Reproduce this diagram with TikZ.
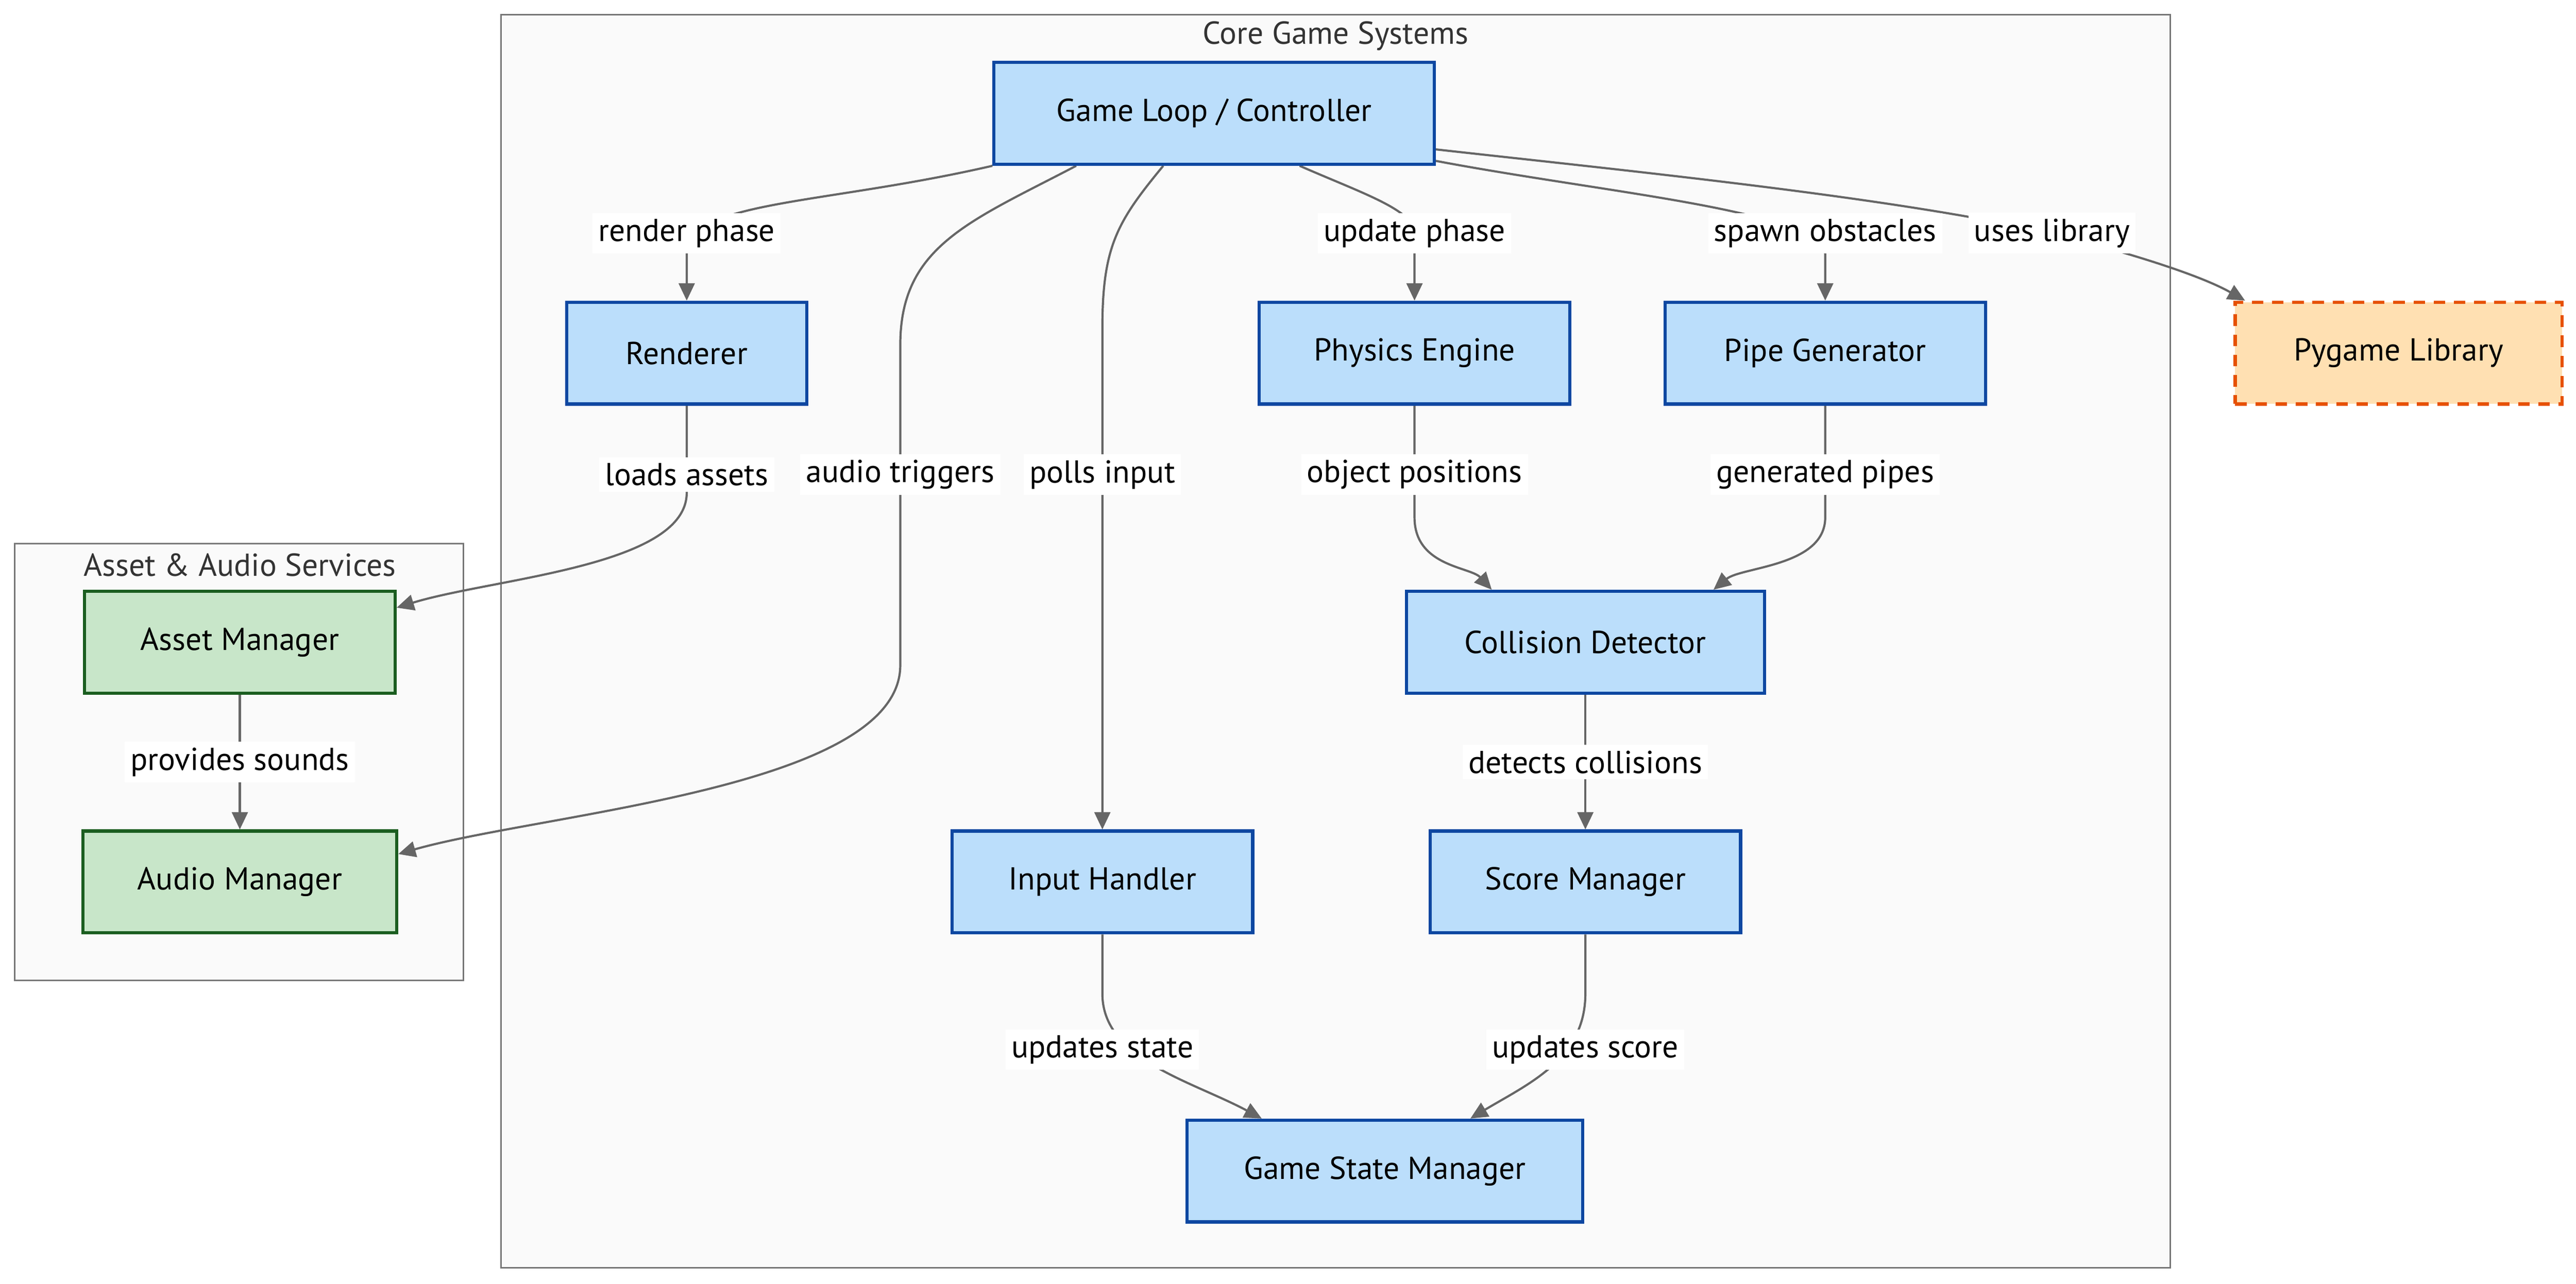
\documentclass[tikz,border=0pt]{standalone}
\usepackage{fontspec}
\setmainfont{PT Sans}
\usetikzlibrary{arrows.meta,calc}
\definecolor{coreblue}{HTML}{BBDEFB}
\definecolor{coreline}{HTML}{0D47A1}
\definecolor{assetgreen}{HTML}{C8E6C9}
\definecolor{assetline}{HTML}{1B5E20}
\definecolor{libfill}{HTML}{FFE0B2}
\definecolor{libline}{HTML}{E65100}
\definecolor{clusterfill}{HTML}{FAFAFA}
\definecolor{clusterline}{HTML}{777777}
\definecolor{linkgray}{HTML}{666666}
\definecolor{titlegray}{HTML}{333333}
\pgfdeclarelayer{bg}
\pgfdeclarelayer{links}
\pgfsetlayers{bg,links,main}

\begin{document}
\begin{tikzpicture}[x=0.02cm, y=-0.02cm,
    box/.style={draw, line width=1.1pt, minimum height=1.24cm, inner sep=0pt, text=black, font=\fontsize{11}{13}\selectfont},
    core/.style={box, draw=coreline, fill=coreblue},
    asset/.style={box, draw=assetline, fill=assetgreen},
    lib/.style={box, draw=libline, fill=libfill, dash pattern=on 4pt off 3pt},
    link/.style={draw=linkgray, line width=0.75pt, -{Triangle[length=6pt,width=5.5pt]}},
    lbl/.style={fill=white, inner sep=2pt, text=black, font=\fontsize{11}{13}\selectfont},
    cluster/.style={draw=clusterline, fill=clusterfill, line width=0.6pt},
    ctitle/.style={text=titlegray, inner sep=0pt, font=\fontsize{11}{13}\selectfont}]
    \useasboundingbox (0,0) rectangle (1568,781.6);

    \pgfmathsetmacro{\assetCol}{146}
    \pgfmathsetmacro{\renderCol}{418}
    \pgfmathsetmacro{\audioCol}{548}
    \pgfmathsetmacro{\inputCol}{671}
    \pgfmathsetmacro{\physCol}{861}
    \pgfmathsetmacro{\collCol}{965}
    \pgfmathsetmacro{\pipeCol}{1111}

    % the two subgraph frames
    \begin{pgfonlayer}{bg}
        \draw[cluster] (305,9) rectangle (1321,772);
        \draw[cluster] (9,331) rectangle (282,597);
    \end{pgfonlayer}
    \node[ctitle] (tcore) at (813,22) {Core Game Systems};
    \node[ctitle] (tasset) at (\assetCol,344) {Asset \& Audio Services};

    % core game systems
    \node[core, minimum width=5.36cm] (gl) at (739,69) {Game Loop / Controller};
    \node[core, minimum width=2.92cm] (rend) at (\renderCol,215) {Renderer};
    \node[core, minimum width=3.78cm] (phys) at (\physCol,215) {Physics Engine};
    \node[core, minimum width=3.90cm] (pipe) at (\pipeCol,215) {Pipe Generator};
    \node[core, minimum width=4.36cm] (coll) at (\collCol,391) {Collision Detector};
    \node[core, minimum width=3.66cm] (input) at (\inputCol,537) {Input Handler};
    \node[core, minimum width=3.78cm] (score) at (\collCol,537) {Score Manager};
    \node[core, minimum width=4.82cm] (gsm) at (843,713) {Game State Manager};

    % asset and audio services
    \node[asset, minimum width=3.78cm] (asset) at (\assetCol,391) {Asset Manager};
    \node[asset, minimum width=3.82cm] (audio) at (\assetCol,537) {Audio Manager};

    % outside library
    \node[lib, minimum width=3.98cm] (pyg) at (1460,215) {Pygame Library};

    % edge labels
    \node[lbl] (lrender) at (\renderCol,142) {render phase};
    \node[lbl] (lupdate) at (\physCol,142) {update phase};
    \node[lbl] (lspawn) at (\pipeCol,142) {spawn obstacles};
    \node[lbl] (luses) at (1249,142) {uses library};
    \node[lbl] (lloads) at (\renderCol,289) {loads assets};
    \node[lbl] (laudio) at (\audioCol,289) {audio triggers};
    \node[lbl] (lpolls) at (\inputCol,289) {polls input};
    \node[lbl] (lobject) at (\physCol,289) {object positions};
    \node[lbl] (lpipes) at (\pipeCol,289) {generated pipes};
    \node[lbl] (lsounds) at (\assetCol,464) {provides sounds};
    \node[lbl] (ldetect) at (\collCol,464) {detects collisions};
    \node[lbl] (lstate) at (\inputCol,639) {updates state};
    \node[lbl] (lscore) at (\collCol,639) {updates score};

    % connectors from the game loop
    \begin{pgfonlayer}{links}
        \draw[link] (gl.south west) .. controls (500,125) and (\renderCol,122) .. (lrender.south) -- (rend.north);
        \draw[link] ($(gl.south west)+(51,0)$) .. controls (590,135) and (548,150) .. (548,210) -- (laudio.center) -- (548,405) .. controls (548,480) and (330,495) .. ($(audio.east)+(0,-17)$);
        \draw[link] ($(gl.south west)+(104,0)$) .. controls (680,135) and (671,150) .. (671,200) -- (lpolls.center) -- (input.north);
        \draw[link] ($(gl.south west)+(187,0)$) .. controls (830,118) and (861,128) .. (lupdate.center) -- (phys.north);
        \draw[link] ($(gl.south east)+(0,-3)$) .. controls (980,118) and (1105,128) .. (lspawn.south) -- (pipe.north);
        \draw[link] ($(gl.south east)+(0,-10)$) .. controls (1000,105) and (1150,120) .. (luses.center) .. controls (1300,155) and (1340,168) .. ($(pyg.north west)+(7,0)$);

        % connectors below
        \draw[link] (rend.south) -- (lloads.center) -- (\renderCol,300) .. controls (\renderCol,345) and (300,352) .. ($(asset.east)+(0,-21)$);
        \draw[link] (phys.south) -- (lobject.center) -- (\physCol,315) .. controls (\physCol,345) and (895,345) .. ($(coll.north)+(-57,0)$);
        \draw[link] (pipe.south) -- (lpipes.center) -- (\pipeCol,315) .. controls (\pipeCol,345) and (1060,345) .. ($(coll.north)+(78,0)$);
        \draw[link] (asset.south) -- (lsounds.center) -- (audio.north);
        \draw[link] (coll.south) -- (ldetect.center) -- (score.north);
        \draw[link] (input.south) -- (\inputCol,605) .. controls (\inputCol,645) and (725,658) .. ($(gsm.north)+(-75,0)$);
        \draw[link] (score.south) -- (\collCol,605) .. controls (\collCol,645) and (930,660) .. ($(gsm.north)+(52,0)$);
    \end{pgfonlayer}

\end{tikzpicture}
\end{document}
